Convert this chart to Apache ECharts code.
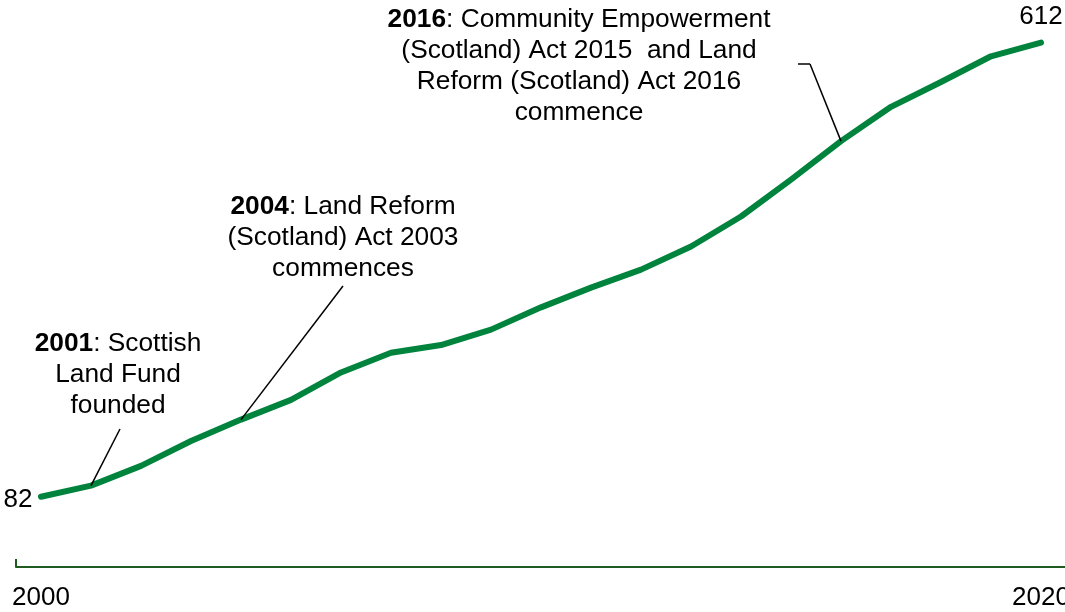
<!DOCTYPE html>
<html>
<head>
<meta charset="utf-8">
<script src="https://cdn.jsdelivr.net/npm/echarts@6/dist/echarts.min.js"></script>
<style>
html,body{margin:0;padding:0;background:#fff;}
#chart{width:1065px;height:612px;}
</style>
</head>
<body>
<div id="chart"></div>
<script>
const years = ['2000','2001','2002','2003','2004','2005','2006','2007','2008','2009','2010',
               '2011','2012','2013','2014','2015','2016','2017','2018','2019','2020'];
const values = [82, 95, 118, 147, 172, 195, 227, 250, 259, 277, 303,
                326, 347, 374, 409, 452, 497, 537, 566, 596, 612];
const shownTickLabels = ['2000', '2020'];
const labelledYears = ['2000', '2020'];
const annotationYears = ['2001', '2004', '2016'];
const annotationTexts = [
  '{b|2001}: Scottish\nLand Fund\nfounded',
  '{b|2004}: Land Reform\n(Scotland) Act 2003\ncommences',
  '{b|2016}: Community Empowerment\n(Scotland) Act 2015  and Land\nReform (Scotland) Act 2016\ncommence'
];

const FONT = '"Liberation Sans", Arial, sans-serif';
const GREEN = '#00843D';
const AXIS = '#1f5a1f';

const seriesData = values.map((v, i) => {
  const y = years[i];
  if (!labelledYears.includes(y)) return v;
  return {
    value: v,
    label: {
      show: true,
      position: i === 0 ? 'left' : 'top',
      distance: i === 0 ? 8 : 12,
      offset: i === 0 ? [0, 3] : [0, 0],
      fontSize: 26,
      fontFamily: FONT,
      color: '#000'
    }
  };
});

// leader line endpoints (text anchor positions in pixels)
const leaderEnds = [{x:120, y:429}, {x:343, y:286}, {x:810, y:64}];
const markLines = annotationYears.map((y, k) => [
  {coord: [y, values[years.indexOf(y)]]},
  leaderEnds[k]
]);
markLines.push([{x:810, y:64}, {x:798, y:64}]);

const textPos = [{x:118, y:328}, {x:343, y:191}, {x:579, y:4}];
const graphics = annotationTexts.map((t, k) => ({
  type: 'text',
  x: textPos[k].x,
  y: textPos[k].y,
  silent: true,
  style: {
    text: t,
    fontSize: 26.3,
    fontFamily: FONT,
    lineHeight: 31,
    fill: '#000',
    align: 'center',
    verticalAlign: 'top',
    rich: {
      b: {fontWeight: 'bold', fontSize: 26.3, fontFamily: FONT, lineHeight: 31}
    }
  }
}));

const chart = echarts.init(document.getElementById('chart'), null, {renderer: 'canvas'});
chart.setOption({
  animation: false,
  backgroundColor: '#fff',
  grid: {left: 16, right: -1, top: 10, bottom: 45, containLabel: false, outerBoundsMode: 'none'},
  xAxis: {
    type: 'category',
    data: years,
    boundaryGap: true,
    axisLine: {show: true, lineStyle: {color: AXIS, width: 2}},
    axisTick: {
      show: true,
      inside: true,
      length: 8,
      interval: (idx) => idx === 0,
      lineStyle: {color: AXIS, width: 2}
    },
    axisLabel: {
      interval: (idx, val) => shownTickLabels.includes(val),
      fontSize: 26,
      fontFamily: FONT,
      color: '#000',
      margin: 18,
      hideOverlap: false
    },
    splitLine: {show: false}
  },
  yAxis: {
    type: 'value',
    min: 0,
    max: 650,
    show: false,
    splitLine: {show: false}
  },
  series: [{
    type: 'line',
    data: seriesData,
    symbol: 'circle',
    symbolSize: 1,
    showSymbol: true,
    itemStyle: {color: GREEN},
    lineStyle: {color: GREEN, width: 6, cap: 'round', join: 'round'},
    label: {show: false},
    markLine: {
      silent: true,
      symbol: ['none', 'none'],
      label: {show: false},
      lineStyle: {color: '#000', width: 1.5, type: 'solid'},
      emphasis: {disabled: true},
      data: markLines
    }
  }],
  graphic: graphics
});
</script>
</body>
</html>
